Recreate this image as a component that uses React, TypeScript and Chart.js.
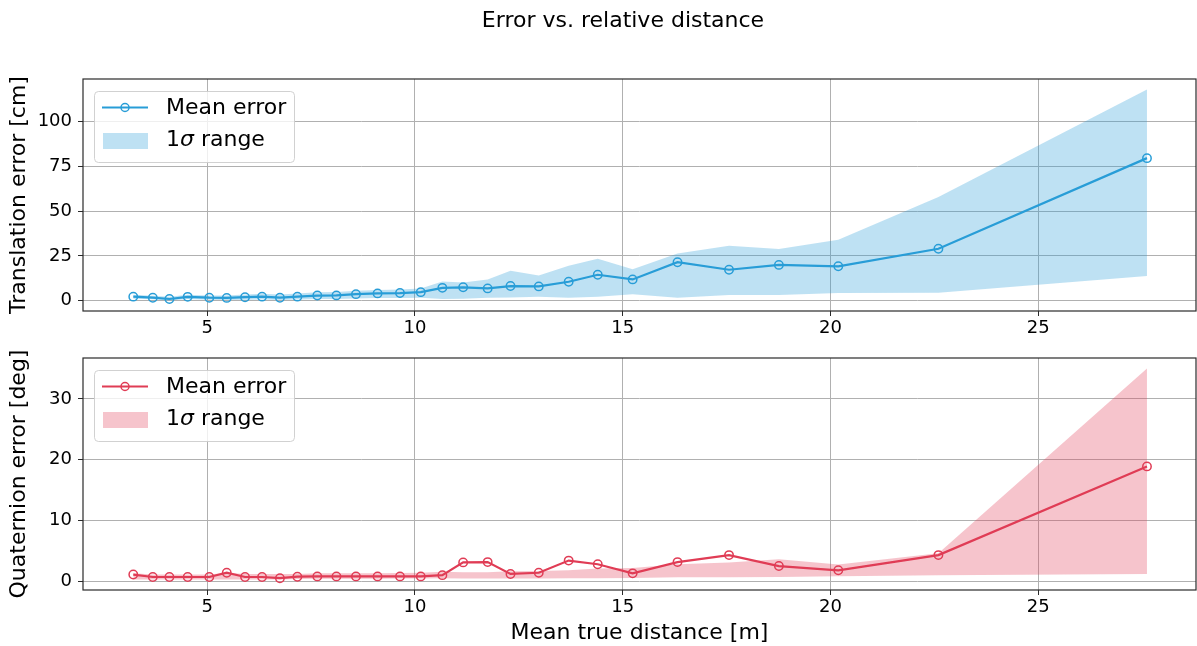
import React, { useEffect, useRef } from 'react';
import { Chart, registerables } from 'chart.js';

Chart.register(...registerables);

const distances = [3.22, 3.69, 4.09, 4.53, 5.05, 5.47, 5.91, 6.32, 6.75, 7.17, 7.65, 8.11, 8.58, 9.10, 9.64, 10.14, 10.66, 11.16, 11.75, 12.30, 12.98, 13.70, 14.40, 15.24, 16.32, 17.56, 18.76, 20.19, 22.60, 27.62];

const transMean = [2.3, 1.7, 1.0, 2.2, 1.7, 1.6, 2.0, 2.3, 1.7, 2.3, 2.9, 3.0, 3.7, 4.1, 4.3, 4.8, 7.2, 7.5, 6.9, 8.2, 8.0, 10.6, 14.5, 11.9, 21.5, 17.3, 20.0, 19.2, 29.0, 79.5];
const transUpper = [3.3, 2.8, 2.3, 3.4, 3.0, 3.0, 3.5, 3.9, 3.5, 4.1, 4.7, 4.9, 5.6, 6.0, 6.3, 6.8, 10.8, 10.2, 11.9, 16.7, 14.1, 19.5, 23.4, 17.6, 26.4, 30.6, 28.8, 34.0, 57.9, 117.7];
const transLower = [1.1, 0.8, 0.2, 1.0, 0.6, 0.5, 0.6, 0.7, 0.5, 0.7, 1.0, 1.0, 1.3, 1.5, 1.5, 1.7, 1.0, 1.1, 1.7, 1.8, 2.2, 1.7, 2.2, 3.7, 1.7, 3.2, 3.2, 4.3, 4.5, 13.8];

const quatMean = [1.1, 0.7, 0.7, 0.7, 0.7, 1.4, 0.7, 0.7, 0.5, 0.75, 0.8, 0.8, 0.8, 0.8, 0.8, 0.8, 1.0, 3.1, 3.15, 1.2, 1.4, 3.4, 2.8, 1.3, 3.15, 4.3, 2.5, 1.8, 4.3, 18.9];
const quatUpper = [1.3, 1.1, 1.1, 1.1, 1.1, 1.4, 1.2, 1.2, 1.2, 1.2, 1.3, 1.3, 1.3, 1.3, 1.35, 1.4, 1.55, 1.5, 1.5, 1.65, 1.7, 1.8, 2.1, 2.2, 2.8, 3.1, 3.6, 2.75, 4.6, 35.0];
const quatLower = [0.3, 0.3, 0.3, 0.3, 0.3, 0.3, 0.3, 0.3, 0.3, 0.35, 0.4, 0.4, 0.4, 0.4, 0.45, 0.45, 0.5, 0.45, 0.45, 0.45, 0.45, 0.5, 0.5, 0.55, 0.66, 0.66, 0.7, 0.83, 1.0, 1.2];

const xTicks = [5, 10, 15, 20, 25];
const transTicks = [0, 25, 50, 75, 100];
const quatTicks = [0, 10, 20, 30];

const TITLE = 'Error vs. relative distance';
const FONT = '"DejaVu Sans", sans-serif';
const BLUE = 'rgb(40,157,215)';
const BLUE_FILL = 'rgba(40,157,215,0.3)';
const RED = 'rgb(224,60,85)';
const RED_FILL = 'rgba(224,60,85,0.3)';

function pts(ys: number[]) {
  return distances.map((x, i) => ({ x, y: ys[i] }));
}

const framePlugin = {
  id: 'mplFrame',
  afterDatasetsDraw(chart: any) {
    const { ctx, chartArea: ca } = chart;
    ctx.save();
    ctx.strokeStyle = '#2a2a2a';
    ctx.lineWidth = 1.2;
    ctx.strokeRect(ca.left, ca.top, ca.right - ca.left, ca.bottom - ca.top);
    ctx.restore();
  },
};

const legendPlugin = {
  id: 'mplLegend',
  afterDraw(chart: any, _args: any, opts: any) {
    const { ctx, chartArea: ca } = chart;
    const L = ca.left + 11;
    const T = ca.top + 12;
    const W = 200;
    const H = 71;
    ctx.save();
    if (opts.title) {
      ctx.fillStyle = '#000';
      ctx.textBaseline = 'middle';
      ctx.textAlign = 'center';
      ctx.font = '22px ' + FONT;
      ctx.fillText(opts.title, 623, 21);
    }
    ctx.beginPath();
    ctx.roundRect(L + 0.5, T + 0.5, W, H, 4);
    ctx.fillStyle = 'rgba(255,255,255,0.8)';
    ctx.fill();
    ctx.strokeStyle = 'rgba(204,204,204,0.9)';
    ctx.lineWidth = 1;
    ctx.stroke();

    const y1 = T + 16.5;
    ctx.strokeStyle = opts.color;
    ctx.lineWidth = 2.2;
    ctx.beginPath();
    ctx.moveTo(L + 8, y1);
    ctx.lineTo(L + 54, y1);
    ctx.stroke();
    ctx.lineWidth = 1.5;
    ctx.beginPath();
    ctx.arc(L + 31, y1, 4, 0, Math.PI * 2);
    ctx.stroke();

    ctx.fillStyle = opts.fill;
    ctx.fillRect(L + 9, T + 42, 45, 16);

    ctx.fillStyle = '#000';
    ctx.textBaseline = 'middle';
    ctx.textAlign = 'left';
    const tx = L + 72;
    ctx.font = '22px ' + FONT;
    ctx.fillText('Mean error', tx, T + 17);
    const y2 = T + 49;
    ctx.fillText('1', tx, y2);
    let x = tx + ctx.measureText('1').width;
    ctx.font = 'italic 22px ' + FONT;
    ctx.fillText('σ', x, y2);
    x += ctx.measureText('σ').width;
    ctx.font = '22px ' + FONT;
    ctx.fillText(' range', x, y2);
    ctx.restore();
  },
};

function makeConfig(
  mean: number[], upper: number[], lower: number[],
  color: string, fillColor: string,
  yMin: number, yMax: number, yTicks: number[], yTitle: string, isBottom: boolean
): any {
  const grid = { color: '#b0b0b0', lineWidth: 1, tickLength: 5, tickColor: '#2a2a2a', drawTicks: true };
  return {
    type: 'line',
    data: {
      datasets: [
        {
          data: pts(mean), borderColor: color, borderWidth: 2.2, pointRadius: 4.2, pointBorderWidth: 1.5,
          pointBorderColor: color, pointBackgroundColor: 'rgba(0,0,0,0)', fill: false, tension: 0,
        },
        {
          data: pts(upper), borderWidth: 0, pointRadius: 0, backgroundColor: fillColor,
          borderColor: 'rgba(0,0,0,0)', fill: '+1', tension: 0,
        },
        {
          data: pts(lower), borderWidth: 0, pointRadius: 0, borderColor: 'rgba(0,0,0,0)', fill: false, tension: 0,
        },
      ],
    },
    options: {
      animation: false,
      responsive: false,
      devicePixelRatio: 1,
      events: [],
      layout: { autoPadding: false, padding: { left: 0, right: 1, top: isBottom ? 18 : 79, bottom: 0 } },
      plugins: {
        legend: { display: false },
        tooltip: { enabled: false },
        title: { display: false },
        mplLegend: { color, fill: fillColor, title: isBottom ? '' : TITLE },
      },
      scales: {
        x: {
          type: 'linear', min: 2.01, max: 28.8,
          afterBuildTicks: (s: any) => { s.ticks = xTicks.map((v) => ({ value: v })); },
          afterFit: (s: any) => { s.height = isBottom ? 56 : 29; },
          grid,
          border: { display: false },
          ticks: { font: { family: FONT, size: 18 }, color: '#000', padding: 2, maxRotation: 0, autoSkip: false, callback: (v: any) => String(v) },
          title: isBottom
            ? { display: true, text: 'Mean true distance [m]', font: { family: FONT, size: 22 }, color: '#000', padding: { top: 0, bottom: 0 } }
            : { display: false },
        },
        y: {
          type: 'linear', min: yMin, max: yMax,
          afterBuildTicks: (s: any) => { s.ticks = yTicks.map((v) => ({ value: v })); },
          afterFit: (s: any) => { s.width = 83; },
          grid,
          border: { display: false },
          ticks: { font: { family: FONT, size: 18 }, color: '#000', padding: 6, callback: (v: any) => String(v) },
          title: { display: true, text: yTitle, font: { family: FONT, size: 22 }, color: '#000', padding: { top: 6, bottom: 0 } },
        },
      },
    },
    plugins: [framePlugin, legendPlugin],
  };
}

export default function App() {
  const topRef = useRef<HTMLCanvasElement>(null);
  const botRef = useRef<HTMLCanvasElement>(null);

  useEffect(() => {
    const c1 = new Chart(topRef.current as HTMLCanvasElement,
      makeConfig(transMean, transUpper, transLower, BLUE, BLUE_FILL, -5.7, 123.6, transTicks, 'Translation error [cm]', false));
    const c2 = new Chart(botRef.current as HTMLCanvasElement,
      makeConfig(quatMean, quatUpper, quatLower, RED, RED_FILL, -1.44, 36.74, quatTicks, 'Quaternion error [deg]', true));
    return () => { c1.destroy(); c2.destroy(); };
  }, []);

  return (
    <div style={{ position: 'fixed', left: 0, top: 0, width: 1197, height: 646, background: '#fff' }}>
      <canvas ref={topRef} width={1197} height={340} style={{ position: 'absolute', left: 0, top: 0, width: 1197, height: 340 }} />
      <canvas ref={botRef} width={1197} height={306} style={{ position: 'absolute', left: 0, top: 340, width: 1197, height: 306 }} />
    </div>
  );
}
